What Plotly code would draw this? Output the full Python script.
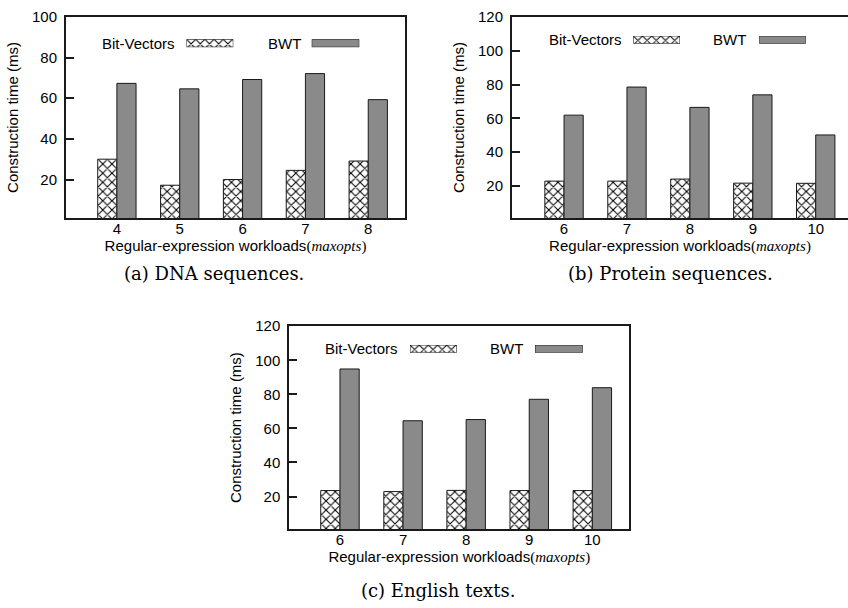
import plotly.graph_objects as go

W, H = 848, 608

# ---------------- data ----------------
series_names = ["Bit-Vectors", "BWT"]

dna_x = [4, 5, 6, 7, 8]
dna_bv = [30.0, 17.2, 20.0, 24.5, 29.1]
dna_bwt = [67.3, 64.6, 69.2, 72.1, 59.3]

prot_x = [6, 7, 8, 9, 10]
prot_bv = [22.9, 22.9, 24.1, 21.7, 21.6]
prot_bwt = [61.9, 78.5, 66.5, 73.9, 50.2]

eng_x = [6, 7, 8, 9, 10]
eng_bv = [23.5, 22.9, 23.6, 23.5, 23.5]
eng_bwt = [94.9, 64.5, 65.2, 77.1, 83.9]

captions = ["(a) DNA sequences.", "(b) Protein sequences.", "(c) English texts."]
y_title = "Construction time (ms)"
x_title = ("Regular-expression workloads"
           "<span style='font-family:\"Liberation Serif\"'>(<i>maxopts</i>)</span>")

# ---------------- styles / geometry (pixels) ----------------
SANS = "Liberation Sans, Arial, sans-serif"
SERIF = "DejaVu Serif, serif"
INK = "#1a1a1a"
GRAY = "#8a8a8a"
FS = 15

panels = [
    dict(x=dna_x, bv=dna_bv, bwt=dna_bwt, frame=(66, 405, 8, 212.3),
         xr=[3.19, 8.585], yr=[1, 100], mirror=True,
         leg=dict(t1=176.7, s1=(186.5, 233.3), t2=303, s2=(311.7, 359.3), yc=34.8),
         cap=(214, 268)),
    dict(x=prot_x, bv=prot_bv, bwt=prot_bwt, frame=(512, 848, 8, 212.3),
         xr=[5.173, 10.513], yr=[1, 120], mirror=False,
         leg=dict(t1=624, s1=(633.3, 680), t2=748.3, s2=(759.3, 805.7), yc=31.3),
         cap=(670, 268)),
    dict(x=eng_x, bv=eng_bv, bwt=eng_bwt, frame=(289.3, 629.3, 322, 527.7),
         xr=[5.197, 10.586], yr=[1, 120], mirror=True,
         leg=dict(t1=400, s1=(410, 456.7), t2=525, s2=(535, 582.7), yc=345),
         cap=(437.5, 590)),
]

hatch = dict(shape="x", size=6.5, solidity=0.3, fgcolor="black", bgcolor="white",
             fillmode="replace")

fig = go.Figure()
layout = {}
annotations = []

def px_x(v):
    return v / W

def px_y(v):
    return (H - v) / H

for i, p in enumerate(panels):
    n = i + 1
    xa = "x" if n == 1 else f"x{n}"
    ya = "y" if n == 1 else f"y{n}"
    xkey = "xaxis" if n == 1 else f"xaxis{n}"
    ykey = "yaxis" if n == 1 else f"yaxis{n}"
    l, r, t, b = p["frame"]

    fig.add_trace(go.Bar(x=p["x"], y=p["bv"], name=series_names[0], xaxis=xa, yaxis=ya,
                         marker=dict(color="white", pattern=hatch,
                                     line=dict(color=INK, width=1)),
                         showlegend=False))
    fig.add_trace(go.Bar(x=p["x"], y=p["bwt"], name=series_names[1], xaxis=xa, yaxis=ya,
                         marker=dict(color=GRAY, line=dict(color=INK, width=1)),
                         showlegend=False))

    layout[xkey] = dict(domain=[px_x(l), min(1.0, px_x(r))], range=p["xr"], anchor=ya,
                        tickvals=p["x"], ticktext=[str(v) for v in p["x"]],
                        showline=True, linecolor=INK, linewidth=2, mirror=True,
                        ticks="", ticklen=0, showgrid=False, zeroline=False,
                        tickfont=dict(family=SANS, size=FS, color="black"),
                        ticklabelstandoff=-4,
                        title=dict(text=x_title, standoff=0,
                                   font=dict(family=SANS, size=FS, color="black")))
    layout[ykey] = dict(domain=[px_y(b), px_y(t)], range=p["yr"], anchor=xa,
                        tickvals=list(range(20, p["yr"][1] + 1, 20)),
                        showline=True, linecolor=INK, linewidth=2, mirror=p["mirror"],
                        ticks="inside", ticklen=8, tickwidth=1.5, tickcolor=INK,
                        showgrid=False, zeroline=False,
                        tickfont=dict(family=SANS, size=FS, color="black"),
                        ticklabelstandoff=4,
                        title=dict(text=y_title, standoff=10,
                                   font=dict(family=SANS, size=FS, color="black")))

    # manual key: text left, sample box right (gnuplot style)
    lg = p["leg"]
    for k, (tx, sw) in enumerate([(lg["t1"], lg["s1"]), (lg["t2"], lg["s2"])]):
        annotations.append(dict(text=series_names[k], x=px_x(tx), y=px_y(lg["yc"]),
                                xref="paper", yref="paper", xanchor="right",
                                yanchor="middle", showarrow=False,
                                font=dict(family=SANS, size=FS, color="black")))
        m = 4 + 2 * i + k
        axx, axy = f"x{m}", f"y{m}"
        layout[f"xaxis{m}"] = dict(domain=[px_x(sw[0]), px_x(sw[1])], range=[0, 1],
                                   anchor=axy, visible=False, fixedrange=True)
        layout[f"yaxis{m}"] = dict(domain=[px_y(lg["yc"] + 4), px_y(lg["yc"] - 4)],
                                   range=[-0.5, 0.5], anchor=axx, visible=False,
                                   fixedrange=True)
        mk = (dict(color="white", pattern=hatch, line=dict(color=INK, width=1)) if k == 0
              else dict(color=GRAY, line=dict(color=INK, width=1)))
        fig.add_trace(go.Bar(x=[1], y=[0], orientation="h", width=1, xaxis=axx, yaxis=axy,
                             marker=mk, showlegend=False, hoverinfo="skip",
                             name=series_names[k]))

    annotations.append(dict(text=captions[i], x=px_x(p["cap"][0]), y=px_y(p["cap"][1]),
                            xref="paper", yref="paper", xanchor="center", yanchor="middle",
                            showarrow=False,
                            font=dict(family=SERIF, size=18, color="black")))

fig.update_layout(width=W, height=H, margin=dict(l=0, r=0, t=0, b=0),
                  paper_bgcolor="white", plot_bgcolor="white",
                  barmode="group", bargap=0.39, bargroupgap=0,
                  showlegend=False, annotations=annotations, **layout)

fig.write_html("out.html")
